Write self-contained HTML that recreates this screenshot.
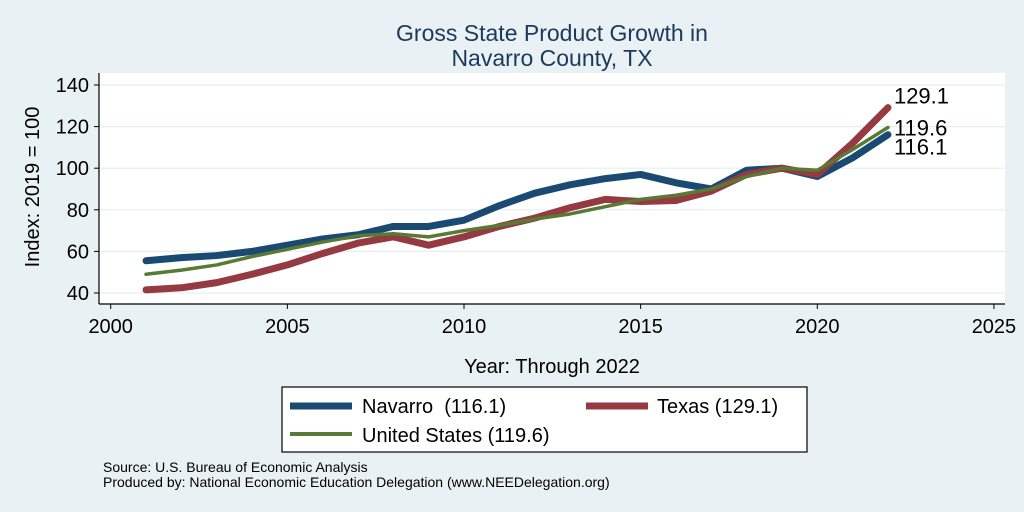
<!DOCTYPE html>
<html><head><meta charset="utf-8"><style>
body{margin:0;width:1024px;height:512px;background:#eaf1f4;font-family:"Liberation Sans",sans-serif;overflow:hidden}
svg{display:block}
text{white-space:pre}
</style></head><body>
<svg id="chart" width="1024" height="512" xmlns="http://www.w3.org/2000/svg">
<rect x="0" y="0" width="1024" height="512" fill="#eaf1f4"/>
<text x="552" y="41" text-anchor="middle" font-size="23" fill="#1a3a5c">Gross State Product Growth in</text>
<text x="552" y="66" text-anchor="middle" font-size="23" fill="#1a3a5c">Navarro County, TX</text>
<rect x="99" y="73" width="906" height="231" fill="#ffffff"/>
<g id="grid"></g>
<g id="axes"></g>
<g id="series"></g>
<text transform="translate(39,187) rotate(-90)" text-anchor="middle" font-size="20" fill="#000">Index: 2019 = 100</text>
<text x="552" y="373" text-anchor="middle" font-size="20" fill="#000">Year: Through 2022</text>
<g>
<rect x="282" y="387" width="525" height="65" fill="#fff" stroke="#000" stroke-width="1.2"/>
<line x1="290" y1="406" x2="352" y2="406" stroke="#1a4a72" stroke-width="7"/>
<text x="362" y="413" font-size="20" xml:space="preserve">Navarro  (116.1)</text>
<line x1="586" y1="406" x2="648" y2="406" stroke="#943a40" stroke-width="7"/>
<text x="657" y="413" font-size="20">Texas (129.1)</text>
<line x1="290" y1="434" x2="352" y2="434" stroke="#587a34" stroke-width="4"/>
<text x="362" y="442" font-size="20">United States (119.6)</text>
</g>
<text x="103" y="472" font-size="14">Source: U.S. Bureau of Economic Analysis</text>
<text x="103" y="487" font-size="14">Produced by: National Economic Education Delegation (www.NEEDelegation.org)</text>
</svg>
<script>
const years=[2001,2002,2003,2004,2005,2006,2007,2008,2009,2010,2011,2012,2013,2014,2015,2016,2017,2018,2019,2020,2021,2022];
const navarro=[55.5,57,58,60,63,66,68,72,72,75,82,88,92,95,97,93,90,99,100,96,105,116.1];
const texas=[41.5,42.5,45,49,53.5,59,64,67,63,67,72,76,81,85,84,84.5,89,97,100,97,112,129.1];
const us=[49,51,53.5,57.5,61,64.5,67.5,68.5,67,70,72.5,75.5,78,81.5,85,87,90,96,100,99,109,119.6];
const yTicks=[40,60,80,100,120,140];
const xTicks=[2000,2005,2010,2015,2020,2025];
const NS="http://www.w3.org/2000/svg";
function X(v){return 110.7+(v-2000)*35.33;}
function Y(v){return 85+(140-v)*2.08;}
function mk(tag,attrs,parent,text){const e=document.createElementNS(NS,tag);for(const k in attrs)e.setAttribute(k,attrs[k]);if(text!==undefined)e.textContent=text;parent.appendChild(e);return e;}
const grid=document.getElementById('grid'),axes=document.getElementById('axes'),ser=document.getElementById('series');
yTicks.forEach(t=>{
  const g=mk('line',{x1:99,x2:1005,y1:Y(t),y2:Y(t),stroke:'#e6eef1','stroke-width':1.2},grid);
  
  
  mk('line',{x1:94,x2:99,y1:Y(t),y2:Y(t),stroke:'#000'},axes);
  const l=mk('text',{x:89,y:Y(t)+7,'text-anchor':'end','font-size':20},axes,String(t));
  
  
});
xTicks.forEach(t=>{
  mk('line',{x1:X(t),x2:X(t),y1:304,y2:309,stroke:'#000'},axes);
  const l=mk('text',{x:X(t),y:333,'text-anchor':'middle','font-size':20},axes,String(t));
  
  
});
mk('line',{x1:99,x2:99,y1:73,y2:304,stroke:'#000','stroke-width':1.2},axes);
mk('line',{x1:99,x2:1005,y1:304,y2:304,stroke:'#000','stroke-width':1.2},axes);
function line(vals,color,w,name){
  const p=mk('polyline',{points:vals.map((v,i)=>X(years[i])+','+Y(v)).join(' '),fill:'none',stroke:color,'stroke-width':w,'stroke-linecap':'round','stroke-linejoin':'round'},ser);
  
  
}
line(navarro,'#1a4a72',7,'line-navarro');
line(texas,'#943a40',7,'line-texas');
line(us,'#587a34',3.5,'line-united-states');
const last=years.length-1, lx=X(years[last])+6;
const a=mk('text',{x:lx,y:Y(texas[last])-4,'font-size':22},ser,texas[last].toFixed(1));


const b=mk('text',{x:lx,y:Y(us[last])+8,'font-size':22},ser,us[last].toFixed(1));


const c=mk('text',{x:lx,y:Y(navarro[last])+20,'font-size':22},ser,navarro[last].toFixed(1));


</script>
</body></html>
